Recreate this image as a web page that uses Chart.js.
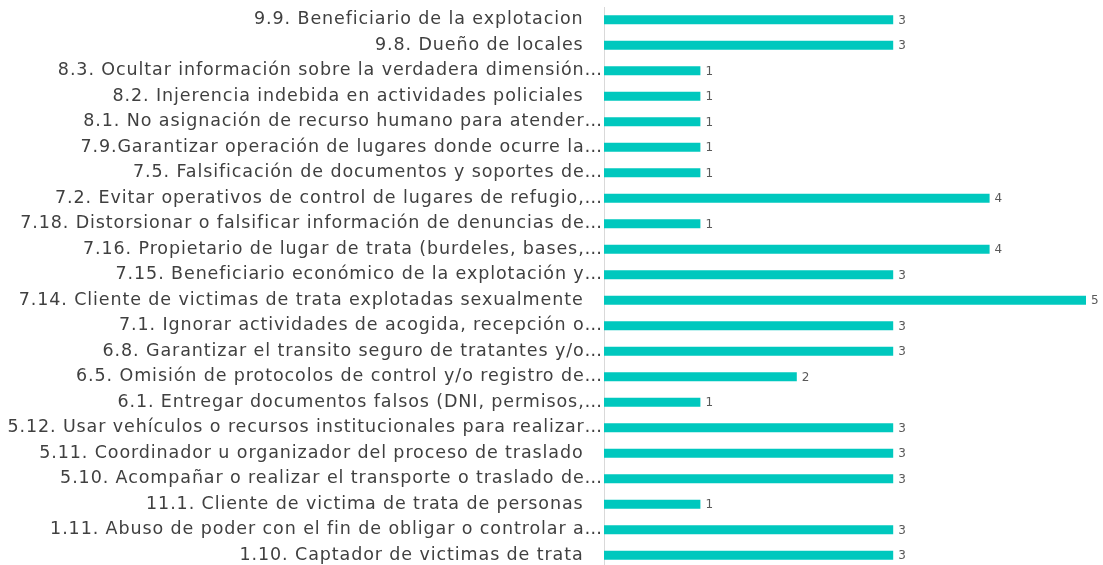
<!DOCTYPE html>
<html>
<head>
<meta charset="utf-8">
<script src="https://cdn.jsdelivr.net/npm/chart.js@4"></script>
<style>
  html, body { margin: 0; padding: 0; background: #fff; overflow: hidden; }
  #wrap { position: relative; width: 1103px; height: 568px; }
</style>
</head>
<body>
<div id="wrap"><canvas id="chartConductas"></canvas></div>
<script>
  // Categorías (de arriba hacia abajo, tal como aparecen)
  const categorias = [
    '9.9. Beneficiario de la explotacion   ',
    '9.8. Dueño de locales   ',
    '8.3. Ocultar información sobre la verdadera dimensión…',
    '8.2. Injerencia indebida en actividades policiales   ',
    '8.1. No asignación de recurso humano para atender…',
    '7.9.Garantizar operación de lugares donde ocurre la…',
    '7.5. Falsificación de documentos y soportes de…',
    '7.2. Evitar operativos de control de lugares de refugio,…',
    '7.18. Distorsionar o falsificar información de denuncias de…',
    '7.16. Propietario de lugar de trata (burdeles, bases,…',
    '7.15. Beneficiario económico de la explotación y…',
    '7.14. Cliente de victimas de trata explotadas sexualmente   ',
    '7.1. Ignorar actividades de acogida, recepción o…',
    '6.8. Garantizar el transito seguro de tratantes y/o…',
    '6.5. Omisión de protocolos de control y/o registro de…',
    '6.1. Entregar documentos falsos (DNI, permisos,…',
    '5.12. Usar vehículos o recursos institucionales para realizar…',
    '5.11. Coordinador u organizador del proceso de traslado   ',
    '5.10. Acompañar o realizar el transporte o traslado de…',
    '11.1. Cliente de victima de trata de personas   ',
    '1.11. Abuso de poder con el fin de obligar o controlar a…',
    '1.10. Captador de victimas de trata   '
  ];

  const valores = [3, 3, 1, 1, 1, 1, 1, 4, 1, 4, 3, 5, 3, 3, 2, 1, 3, 3, 3, 1, 3, 3];

  const FUENTE = "'DejaVu Sans', sans-serif";
  const ESPACIADO = '0.9px';

  // Espaciado de letras (el canvas se reinicia al redimensionar)
  const espaciado = {
    id: 'espaciado',
    beforeUpdate(chart) { chart.ctx.letterSpacing = ESPACIADO; },
    beforeDraw(chart) { chart.ctx.letterSpacing = ESPACIADO; }
  };

  // Etiquetas de valor al final de cada barra
  const etiquetasValor = {
    id: 'etiquetasValor',
    afterDatasetsDraw(chart) {
      const ctx = chart.ctx;
      const meta = chart.getDatasetMeta(0);
      ctx.save();
      ctx.letterSpacing = '0px';
      ctx.font = '12px ' + FUENTE;
      ctx.fillStyle = '#595959';
      ctx.textAlign = 'left';
      ctx.textBaseline = 'middle';
      meta.data.forEach((bar, i) => {
        ctx.fillText(String(valores[i]), bar.x + 5, bar.y + 1);
      });
      ctx.restore();
    }
  };

  const canvas = document.getElementById('chartConductas');
  new Chart(canvas.getContext('2d'), {
    type: 'bar',
    data: {
      labels: categorias,
      datasets: [{
        data: valores,
        backgroundColor: '#00C8BE',
        borderWidth: 0,
        categoryPercentage: 1,
        barPercentage: 0.36
      }]
    },
    options: {
      indexAxis: 'y',
      responsive: true,
      maintainAspectRatio: false,
      animation: false,
      layout: { padding: { top: 7, right: 17, bottom: 0, left: 0 } },
      plugins: {
        legend: { display: false },
        tooltip: { enabled: false }
      },
      scales: {
        x: {
          display: false,
          min: 0,
          max: 5
        },
        y: {
          grid: { display: false, drawTicks: false },
          border: { display: true, color: '#D9D9D9', width: 1 },
          ticks: {
            autoSkip: false,
            padding: 1,
            color: '#404040',
            font: { family: FUENTE, size: 17.5 }
          },
          afterFit(scale) {
            scale.width = 604;
            scale.paddingTop = 0;
            scale.paddingBottom = 0;
          }
        }
      }
    },
    plugins: [espaciado, etiquetasValor]
  });
</script>
</body>
</html>
